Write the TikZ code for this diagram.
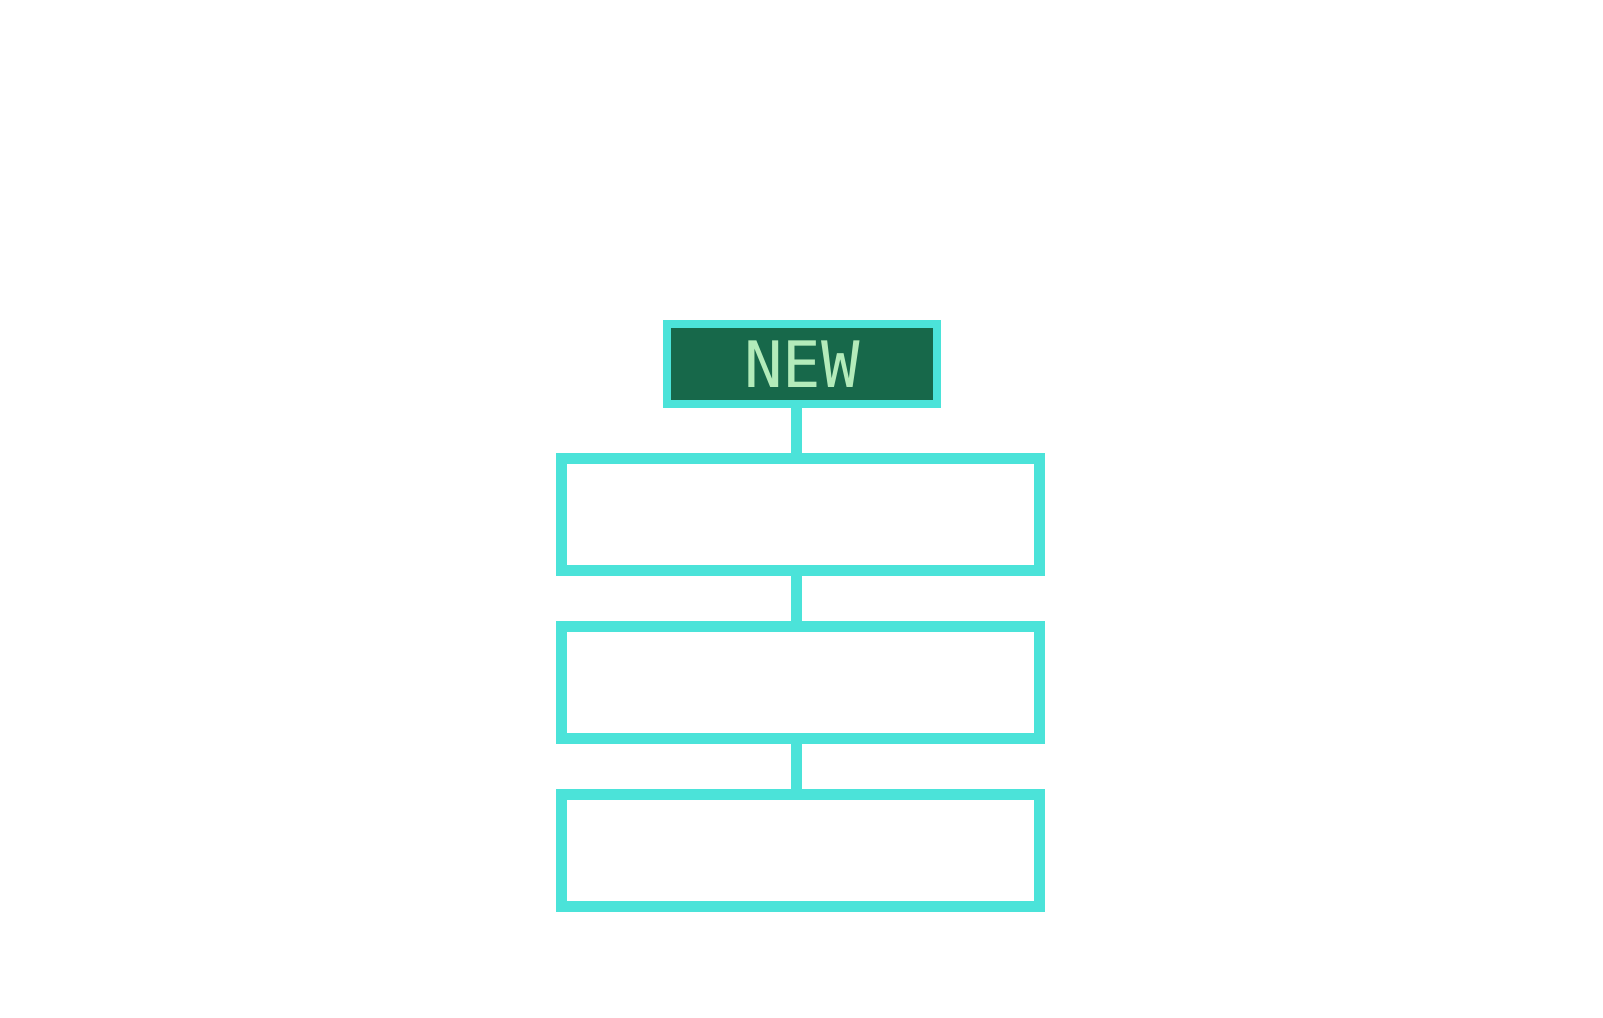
\documentclass[tikz,border=0pt]{standalone}
\usepackage{xcolor}
\usepackage{fontspec}
\newfontfamily\tagfont{DejaVu Sans Mono}
\usepackage{tikz}
\usetikzlibrary{positioning}

\definecolor{turq}{HTML}{4BE3D9}
\definecolor{tagbg}{HTML}{17684A}
\definecolor{tagtext}{HTML}{B3EBBA}

\begin{document}
\begin{tikzpicture}[x=0.5pt, y=-0.5pt, node distance=22.5pt,
    tag/.style={rectangle, draw=turq, fill=tagbg, line width=3.75pt, minimum width=135pt, minimum height=40pt, inner sep=0pt, text=tagtext, font=\tagfont\fontsize{32}{32}\selectfont},
    slot/.style={rectangle, draw=turq, line width=5.5pt, minimum width=239pt, minimum height=56pt, inner sep=0pt},
    link/.style={draw=turq, line width=5.5pt}]

    \useasboundingbox (0,0) rectangle (1603,1018);

    \node [tag] (new) at (802,364) {NEW};
    \node [slot, below=of new, xshift=-0.75pt] (first) {};
    \node [slot, below=of first] (second) {};
    \node [slot, below=of second] (third) {};

    \draw[link] ([xshift=-2.75pt]new.south) -- ([xshift=-2pt]first.north);
    \draw[link] ([xshift=-2pt]first.south) -- ([xshift=-2pt]second.north);
    \draw[link] ([xshift=-2pt]second.south) -- ([xshift=-2pt]third.north);
\end{tikzpicture}
\end{document}
